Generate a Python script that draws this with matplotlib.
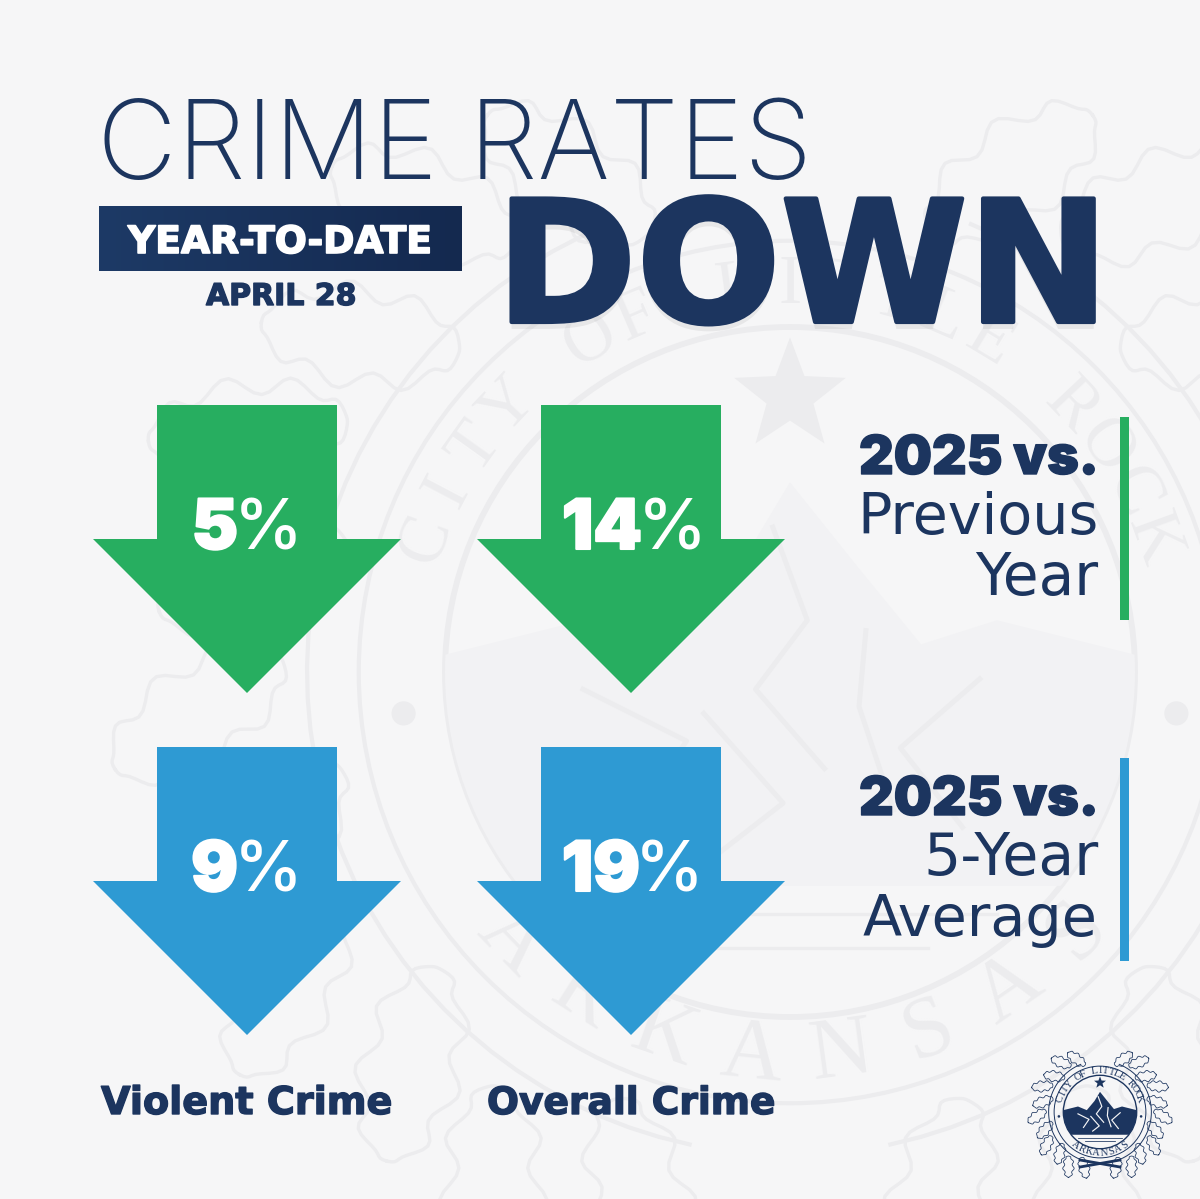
import numpy as np
import matplotlib
matplotlib.use("Agg")
import matplotlib.pyplot as plt
import matplotlib.patheffects as pe
from matplotlib.colors import LinearSegmentedColormap
from matplotlib.patches import Circle, Polygon, Rectangle

NAVY = "#1c355f"
GREEN = "#27ae60"
BLUE = "#2e9ad3"
BG = "#f6f6f7"
SEAL = "#ececee"
SEAL_FILL = "#f2f2f4"
WIDE = ["DejaVu Sans"]
TIGHT = ["Inter", "DejaVu Sans"]

crime_types = ["Violent Crime", "Overall Crime"]
vs_prev_year = [5, 14]
vs_five_year = [9, 19]
row_titles = ["2025 vs.", "2025 vs."]
row_subtitles = [["Previous", "Year"], ["5-Year", "Average"]]

fig = plt.figure(figsize=(12, 11.99), dpi=100, facecolor=BG)
ax = fig.add_axes([0, 0, 1, 1])
ax.set_xlim(0, 1200)
ax.set_ylim(1199, 0)
ax.axis("off")


def fit(x0, x1, base, s, guess, family=WIDE, weight="normal", color=NAVY, bold=0, zorder=5):
    # scale font so the string spans x0..x1 in pixels, y is the baseline
    t = ax.text(x0, base, s, fontsize=guess, family=family, fontweight=weight, color=color,
                ha="left", va="baseline", zorder=zorder)
    w = t.get_window_extent(fig.canvas.get_renderer()).width
    t.set_fontsize(guess * (x1 - x0) / w)
    if bold:
        t.set_path_effects([pe.withStroke(linewidth=bold, foreground=color)])
    return t


def arc_text(cx, cy, r, s, a0, a1, size, color, top=True, zorder=1):
    # letters placed one by one along a circle, angles in degrees clockwise from top
    for ch, a in zip(s, np.linspace(a0, a1, len(s))):
        rad = np.radians(a)
        x, y = cx + r * np.sin(rad), cy - r * np.cos(rad)
        rot = -a if top else 180 - a
        ax.text(x, y, ch, fontsize=size, family=["Liberation Serif"], color=color, ha="center", va="center",
                rotation=rot, rotation_mode="anchor", zorder=zorder)


def star(cx, cy, r, color, zorder):
    ang = np.radians(np.arange(0, 360, 36))
    rad = np.where(np.arange(10) % 2 == 0, r, r * 0.42)
    pts = np.column_stack([cx + rad * np.sin(ang), cy - rad * np.cos(ang)])
    ax.add_patch(Polygon(pts, closed=True, fc=color, ec="none", zorder=zorder))


def leaf(x, y, length, width, angle, color, lw, zorder):
    # oak leaf outline: a lobed ellipse turned to angle (radians)
    t = np.linspace(0, 2 * np.pi, 80)
    lobes = 1 + 0.22 * np.cos(9 * t)
    u = length / 2 * np.cos(t)
    v = width / 2 * np.sin(t) * lobes
    px = x + u * np.cos(angle) - v * np.sin(angle)
    py = y + u * np.sin(angle) + v * np.cos(angle)
    ax.plot(px, py, color=color, lw=lw, zorder=zorder)


def seal(cx, cy, r, line, fill, streak, lw, zorder):
    # r is the radius of the inner disc, everything else is relative to it
    disc = Circle((cx, cy), r, fc="none", ec=line, lw=lw * 1.4, zorder=zorder)
    ax.add_patch(disc)
    ax.add_patch(Circle((cx, cy), r * 1.25, fc="none", ec=line, lw=lw, zorder=zorder))
    star(cx, cy - r * 0.8, r * 0.17, line, zorder)
    m = [(-1, -0.05), (-0.6, -0.15), (-0.36, -0.05), (-0.15, -0.3), (0.0, -0.55), (0.2, -0.3), (0.38, -0.08),
         (0.6, -0.15), (1, -0.05), (1, 0.62), (-1, 0.62)]
    mt = Polygon([(cx + x * r, cy + y * r) for x, y in m], closed=True, fc=fill, ec="none", zorder=zorder)
    ax.add_patch(mt)
    mt.set_clip_path(disc)
    # ridge lines and water
    ridges = [[(-0.05, -0.42), (0.05, -0.15), (-0.1, 0.05), (0.1, 0.28)],
              [(-0.6, 0.05), (-0.3, 0.2), (-0.45, 0.42)],
              [(0.55, 0.02), (0.32, 0.22), (0.5, 0.45)],
              [(-0.25, 0.12), (-0.02, 0.38), (-0.2, 0.52)],
              [(0.22, -0.12), (0.2, 0.1), (0.3, 0.4)]]
    for rd in ridges:
        ax.plot([cx + x * r for x, _ in rd], [cy + y * r for _, y in rd], color=streak, lw=lw * 1.2, zorder=zorder)
    for y, hw in zip([0.7, 0.8], [0.6, 0.4]):
        ax.plot([cx - hw * r, cx + hw * r], [cy + y * r, cy + y * r], color=line, lw=lw * 0.8, zorder=zorder)
    for side in (-1, 1):
        ax.add_patch(Circle((cx + side * r * 1.12, cy + r * 0.12), r * 0.035, fc=line, ec="none", zorder=zorder))
    # wreath on both sides
    for side in (-1, 1):
        ang = np.radians(np.linspace(22, 168, 40))
        ax.plot(cx + side * r * 1.4 * np.sin(ang), cy - r * 1.4 * np.cos(ang), color=line, lw=lw, zorder=zorder)
        for i, a in enumerate(np.arange(24, 172, 14)):
            rad = np.radians(a)
            rr = r * (1.72 if i % 2 else 1.58)
            x, y = cx + side * rr * np.sin(rad), cy - rr * np.cos(rad)
            tilt = np.radians(a - 60) if side > 0 else np.pi - np.radians(a - 60)
            leaf(x, y, r * 0.58, r * 0.26, tilt, line, lw * 0.8, zorder)


def arrow(cx, top, color, value, num_right, pct_x):
    # stem 180 wide, head 307 wide, 288 tall overall
    pts = [(cx - 90, top), (cx + 90, top), (cx + 90, top + 134), (cx + 154, top + 134),
           (cx, top + 288), (cx - 154, top + 134), (cx - 90, top + 134)]
    ax.add_patch(Polygon(pts, closed=True, fc=color, ec="none", zorder=3))
    t = ax.text(num_right, top + 144, str(value), fontsize=50, family=TIGHT, fontweight="black", color="white",
                ha="right", va="baseline", zorder=4)
    t.set_path_effects([pe.withStroke(linewidth=1.5, foreground="white")])
    ax.text(pct_x, top + 144, "%", fontsize=50, family=TIGHT, fontweight="medium", color="white",
            ha="left", va="baseline", zorder=4)


# faint seal behind everything
seal(790, 672, 345, SEAL, SEAL_FILL, SEAL, 3, 1)
arc_text(790, 672, 386, "ARKANSAS", 226, 132, 62, SEAL, top=False)
arc_text(790, 672, 386, "CITY OF LITTLE ROCK", -70, 70, 50, SEAL)

# header
fit(97, 812, 179, "CRIME RATES", 80, family=TIGHT, weight="light")
grad = LinearSegmentedColormap.from_list("bar", ["#1d3a66", "#14294f"])
ax.imshow(np.linspace(0, 1, 256)[None, :], cmap=grad, extent=(99, 462, 271, 206), aspect="auto", zorder=2)
ax.set_xlim(0, 1200)
ax.set_ylim(1199, 0)
fit(128, 432, 253, "YEAR-TO-DATE", 27, weight="bold", color="white", bold=1.2)
fit(206, 356, 305, "APRIL 28", 22, weight="bold", bold=1)
down = fit(496, 1109, 322, "DOWN", 112, weight="bold")
down.set_path_effects([pe.SimplePatchShadow(offset=(0, -5), shadow_rgbFace="black", alpha=0.06),
                       pe.withStroke(linewidth=3, foreground=NAVY)])

# arrows
cols = [247, 631]
num_rights = [[238, 642], [238, 640]]
pct_xs = [[234, 638], [234, 635]]
for i, (cx, v_prev, v_five) in enumerate(zip(cols, vs_prev_year, vs_five_year)):
    arrow(cx, 405, GREEN, v_prev, num_rights[0][i], pct_xs[0][i])
    arrow(cx, 747, BLUE, v_five, num_rights[1][i], pct_xs[1][i])
fit(101, 392, 1114, crime_types[0], 28, weight="bold", bold=1)
fit(487, 775, 1114, crime_types[1], 28, weight="bold", bold=1)

# right side row labels
spans = [[857, 975], [923, 863]]
for top, color, title, sub, sp in zip([417, 758], [GREEN, BLUE], row_titles, row_subtitles, spans):
    ax.add_patch(Rectangle((1120, top), 9, 203, fc=color, ec="none", zorder=3))
    fit(859, 1099, top + 57, title, 36, family=TIGHT, weight="black", bold=1)
    fit(sp[0], 1098, top + 117, sub[0], 39)
    fit(sp[1], 1098, top + 178, sub[1], 39)

# small seal, bottom right
seal(1100, 1112, 36.7, NAVY, NAVY, BG, 0.7, 6)
arc_text(1100, 1112, 41.5, "CITY OF LITTLE ROCK", -72, 72, 7.5, NAVY, zorder=7)
arc_text(1100, 1112, 41.5, "ARKANSAS", 217, 143, 7.5, NAVY, top=False, zorder=7)
ax.plot([1080, 1120], [1167, 1160], color=NAVY, lw=2, zorder=6)
ax.plot([1080, 1120], [1160, 1167], color=NAVY, lw=2, zorder=6)

fig.savefig("out.png", dpi=100, facecolor=BG)
